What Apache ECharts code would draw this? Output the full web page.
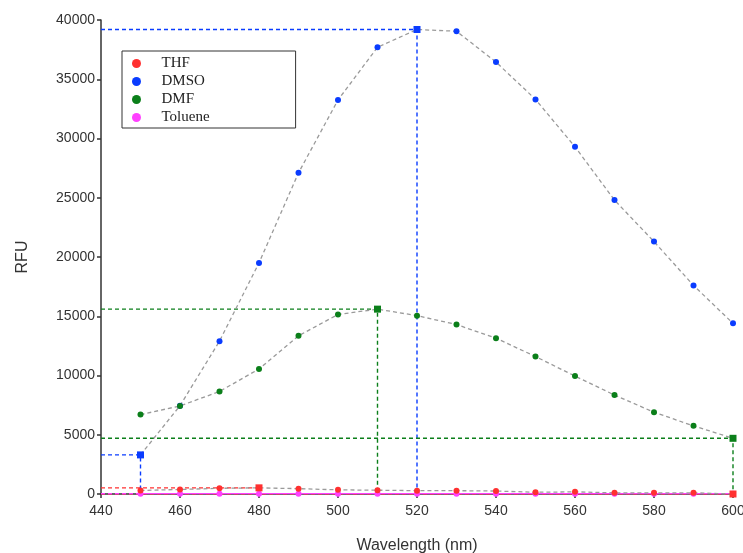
<!DOCTYPE html>
<html>
<head>
<meta charset="utf-8">
<script src="https://cdn.jsdelivr.net/npm/echarts@6/dist/echarts.min.js"></script>
<style>html,body{margin:0;padding:0;background:#fff}#c{width:743px;height:553px}</style>
</head>
<body>
<div id="c"></div>
<script>
const wavelengths = [450,460,470,480,490,500,510,520,530,540,550,560,570,580,590,600];
const thf     = [300,380,480,520,450,350,320,280,280,250,150,180,100,100,100,0];
const dmso    = [3300,7450,12900,19500,27100,33250,37700,39200,39050,36450,33300,29300,24800,21300,17600,14400];
const dmf     = [6700,7430,8650,10550,13350,15150,15600,15050,14300,13150,11600,9950,8350,6900,5750,4700];
const toluene = [30,30,30,30,30,30,30,30,30,30,30,30,30,30,30,30];
const xTicks = [440,460,480,500,520,540,560,580,600];
const yTicks = [0,5000,10000,15000,20000,25000,30000,35000,40000];

const names = ['THF','DMSO','DMF','Toluene'];
const values = [thf, dmso, dmf, toluene];
const colors = ['#ff3030','#0a3cff','#0b7f1a','#ff40ff'];
const connectColors = ['#9a9a9a','#9a9a9a','#9a9a9a','#ff40ff'];
const connectTypes = ['dashed','dashed','dashed','solid'];

const xMin = xTicks[0], xMax = xTicks[xTicks.length-1];
const series = [];

values.forEach((vals, s) => {
  let iMax = 0, iMin = 0;
  vals.forEach((v,i)=>{ if (v>vals[iMax]) iMax=i; if (v<vals[iMin]) iMin=i; });
  [iMax, iMin].forEach(idx => {
    series.push({
      type:'line', name: names[s]+'_ref'+idx, silent:true, symbol:'none', z:1,
      lineStyle:{color:colors[s], width:1.4, type:[4,3]},
      data:[[xMin, vals[idx]],[wavelengths[idx], vals[idx]],[wavelengths[idx], 0]]
    });
  });
  series.push({
    type:'line', name:names[s], z: s===0?4:3,
    symbol:'circle', symbolSize:6,
    itemStyle:{color:colors[s]},
    lineStyle:{color:connectColors[s], width:1.3, type: connectTypes[s]==='dashed'?[4,3]:'solid'},
    data: wavelengths.map((w,i)=>{
      const d = {value:[w, vals[i]]};
      if (s!==3 && (i===iMax || i===iMin)) { d.symbol='rect'; d.symbolSize=7; }
      return d;
    })
  });
});

const chart = echarts.init(document.getElementById('c'), null, {renderer:'canvas'});
chart.setOption({
  backgroundColor:'#fff',
  animation:false,
  grid:{left:101, right:10, top:20, bottom:59, containLabel:false, outerBoundsMode:'none'},
  legend:{
    data: names.map(n=>({name:n, icon:'circle'})),
    orient:'vertical', left:122, top:51,
    itemWidth:30, itemHeight:9, itemGap:3,
    padding:[5,86,3,10],
    backgroundColor:'#fff', borderColor:'#333', borderWidth:1,
    textStyle:{fontFamily:'Liberation Serif', fontSize:15, lineHeight:15, color:'#222', padding:[0,0,0,5]}
  },
  xAxis:{
    type:'value', min:xMin, max:xMax, interval:20,
    name:'Wavelength (nm)', nameLocation:'middle', nameGap:44,
    nameTextStyle:{fontFamily:'Liberation Sans', fontSize:16, color:'#333'},
    axisLine:{show:true, lineStyle:{color:'#333', width:1.5}},
    axisTick:{show:true, length:4, lineStyle:{color:'#333', width:1.5}},
    axisLabel:{fontFamily:'Liberation Sans', fontSize:14, color:'#333', margin:10, formatter:v=>String(v)},
    splitLine:{show:false}
  },
  yAxis:{
    type:'value', min:yTicks[0], max:yTicks[yTicks.length-1], interval:5000,
    name:'RFU', nameLocation:'middle', nameGap:70, nameRotate:90,
    nameTextStyle:{fontFamily:'Liberation Sans', fontSize:16, color:'#333'},
    axisLine:{show:true, lineStyle:{color:'#333', width:1.5}},
    axisTick:{show:true, length:4, lineStyle:{color:'#333', width:1.5}},
    axisLabel:{fontFamily:'Liberation Sans', fontSize:14, color:'#333', margin:6, formatter:v=>String(v)},
    splitLine:{show:false}
  },
  series: series
});
</script>
</body>
</html>
